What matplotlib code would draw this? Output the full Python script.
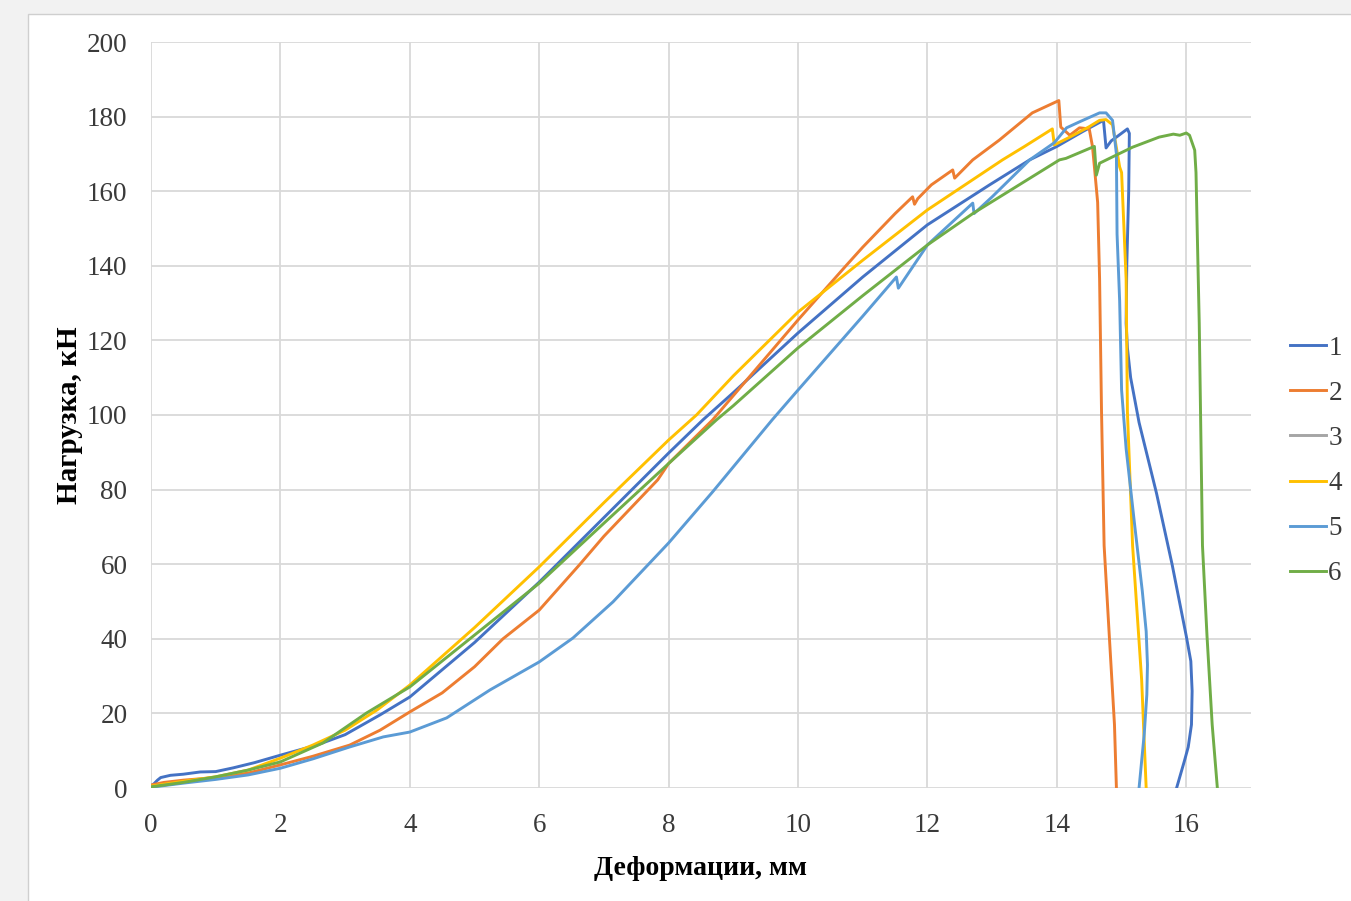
import matplotlib
matplotlib.use("Agg")
import matplotlib.pyplot as plt
from matplotlib.patches import Rectangle

plt.rcParams['font.family'] = ['Liberation Serif', 'DejaVu Serif']

labels = ['1', '2', '3', '4', '5', '6']
colors = ['#4472C4', '#ED7D31', '#A5A5A5', '#FFC000', '#5B9BD5', '#70AD47']

x1 = [0, 0.05, 0.1, 0.15, 0.3, 0.5, 0.76, 1.0, 1.27, 1.6, 2.0, 2.56, 3.0, 3.54, 4.0, 5.0, 6.0, 7.0,
      8.0, 8.53, 9.0, 10.0, 11.0, 12.0, 12.96, 13.58, 14.0, 14.4, 14.72, 14.76, 14.84, 14.92, 15.09,
      15.12, 15.11, 15.08, 15.07, 15.09, 15.14, 15.27, 15.54, 15.78, 16.0, 16.07, 16.09, 16.08, 16.03,
      15.97, 15.85]
y1 = [0.5, 1.2, 2.1, 2.8, 3.4, 3.7, 4.3, 4.4, 5.4, 6.8, 8.8, 11.5, 14.3, 19.6, 24.4, 39.0, 55.2, 72.5,
      89.8, 98.7, 106.0, 122.0, 137.0, 151.0, 161.7, 168.4, 172.0, 176.0, 179.0, 171.6, 173.5, 174.5, 176.7,
      175.5, 160.0, 140.0, 124.6, 118.0, 110.0, 98.0, 79.0, 60.0, 40.7, 34.0, 26.0, 17.0, 11.0, 7.2, 0.0]

x2 = [0, 0.2, 0.5, 1.0, 1.5, 2.0, 2.5, 3.07, 3.54, 4.0, 4.5, 5.0, 5.44, 6.0, 6.63, 7.0, 7.83, 8.0, 8.68,
      9.0, 10.0, 10.75, 11.0, 11.5, 11.77, 11.8, 11.85, 12.06, 12.39, 12.42, 12.7, 13.11, 13.62, 14.03,
      14.06, 14.2, 14.35, 14.5, 14.55, 14.58, 14.63, 14.66, 14.69, 14.73, 14.81, 14.89, 14.92]
y2 = [0.8, 1.5, 2.1, 2.8, 4.0, 6.2, 8.5, 11.5, 15.5, 20.4, 25.5, 32.5, 40.0, 47.7, 60.0, 67.5, 82.6, 87.0, 98.7,
      105.2, 125.5, 140.2, 145.0, 154.0, 158.5, 156.5, 158.0, 161.7, 165.7, 163.5, 168.4, 173.7, 181.0, 184.3,
      177.2, 175.0, 177.0, 176.7, 172.0, 166.5, 157.0, 136.5, 100.8, 65.0, 40.8, 17.0, 0.0]

x3 = []
y3 = []

x4 = [0, 0.5, 1.0, 1.5, 2.0, 2.5, 3.0, 3.5, 4.0, 5.0, 6.0, 7.0, 8.0, 8.43, 9.0, 10.0, 11.0, 12.0, 13.16,
      13.5, 13.93, 13.96, 14.2, 14.5, 14.66, 14.76, 14.86, 14.97, 15.0, 15.07, 15.09, 15.17, 15.31, 15.38]
y4 = [0.5, 1.8, 3.0, 4.8, 8.0, 11.5, 15.5, 21.0, 27.6, 43.0, 59.3, 76.5, 93.3, 100.0, 110.5, 127.6, 141.5,
      155.0, 168.4, 172.0, 176.7, 172.4, 174.5, 177.3, 179.0, 179.2, 177.8, 166.5, 165.0, 136.5, 100.8, 65.0,
      29.0, 0.0]

x5 = [0, 0.5, 1.0, 1.5, 2.0, 2.5, 3.07, 3.59, 4.0, 4.57, 5.24, 6.0, 6.52, 7.14, 8.0, 8.68, 9.6, 10.0, 11.0,
      11.52, 11.55, 12.0, 12.7, 12.72, 13.0, 13.58, 13.96, 14.15, 14.35, 14.66, 14.76, 14.86, 14.92, 14.93,
      14.97, 15.0, 15.07, 15.2, 15.32, 15.38, 15.4, 15.39, 15.35, 15.27]
y5 = [0.2, 1.3, 2.3, 3.5, 5.3, 7.8, 11.0, 13.7, 15.0, 18.8, 26.3, 33.8, 40.2, 49.9, 65.7, 79.4, 98.7, 106.7,
      126.5, 137.0, 134.0, 145.6, 156.8, 154.0, 158.5, 168.4, 173.0, 177.0, 178.6, 181.0, 181.0, 179.0, 170.0,
      148.5, 130.6, 106.7, 91.0, 70.8, 52.8, 42.0, 33.0, 25.0, 14.5, 0.0]

x6 = [0, 0.5, 1.0, 1.5, 2.0, 2.66, 3.33, 4.0, 5.0, 6.0, 7.0, 8.0, 8.74, 9.0, 10.0, 11.0, 12.0, 12.7, 13.11,
      14.04, 14.14, 14.55, 14.58, 14.61, 14.66, 14.86, 15.17, 15.58, 15.8, 15.9, 16.0, 16.05, 16.09, 16.13,
      16.15, 16.17, 16.2, 16.22, 16.25, 16.32, 16.4, 16.48]
y6 = [0.3, 1.5, 3.0, 4.8, 7.0, 12.1, 20.1, 27.1, 41.0, 54.9, 71.0, 87.0, 98.7, 102.5, 118.0, 132.0, 145.6,
      154.0, 158.4, 168.4, 168.8, 171.8, 172.0, 164.3, 167.5, 169.2, 171.8, 174.5, 175.3, 175.0, 175.6, 175.0,
      173.0, 171.0, 165.0, 148.5, 124.6, 100.8, 65.0, 40.8, 17.0, 0.0]

xs = [x1, x2, x3, x4, x5, x6]
ys = [y1, y2, y3, y4, y5, y6]

xticks = [0, 2, 4, 6, 8, 10, 12, 14, 16]
yticks = [0, 20, 40, 60, 80, 100, 120, 140, 160, 180, 200]
xlabel = 'Деформации, мм'
ylabel = 'Нагрузка, кН'

fig = plt.figure(figsize=(13.51, 9.01), dpi=100)
fig.patch.set_facecolor('#f2f2f2')
bg = Rectangle((28 / 1351, -0.01), 1.0, 1 - 14 / 901 + 0.01, transform=fig.transFigure,
               facecolor='white', edgecolor='#cfcfcf', linewidth=1.0, zorder=-10)
fig.add_artist(bg)

ax = fig.add_axes([151 / 1351, 1 - 788 / 901, (1251 - 151) / 1351, (788 - 42) / 901])
ax.set_zorder(1)
ax.patch.set_alpha(0)

for x, y, c, lab in zip(xs, ys, colors, labels):
    ax.plot(x, y, color=c, lw=2.1, label=lab, solid_joinstyle='round')

ax.set_xlim(0, 17)
ax.set_ylim(0, 200)
ax.set_xticks(xticks)
ax.set_yticks(yticks)
ax.grid(True, color='#d9d9d9', lw=1.3)
ax.set_axisbelow(True)
for s in ax.spines.values():
    s.set_visible(False)
ax.tick_params(length=0, labelsize=19.5, colors='#3a3a3a')
ax.tick_params(axis='y', pad=17)
ax.tick_params(axis='x', pad=18)

ax.set_xlabel(xlabel, fontsize=20, fontweight='bold', labelpad=13)
ax.set_ylabel(ylabel, fontsize=21, fontweight='bold', labelpad=3)

leg = ax.legend(loc='center left', bbox_to_anchor=(1266 / 1351, 1 - 461 / 901),
                bbox_transform=fig.transFigure, frameon=False, fontsize=19.5,
                handlelength=1.3, handletextpad=0.1, labelspacing=0.74)
for t in leg.get_texts():
    t.set_color('#3a3a3a')

fig.savefig('out.png', dpi=100, facecolor=fig.get_facecolor())
